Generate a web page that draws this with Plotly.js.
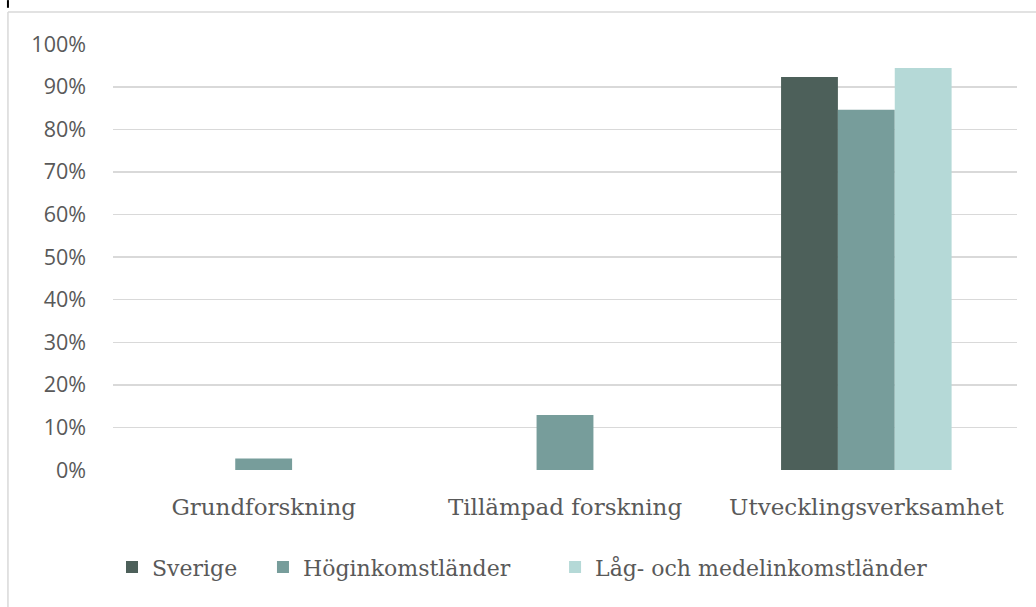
<!DOCTYPE html>
<html>
<head>
<meta charset="utf-8">
<script src="https://cdn.plot.ly/plotly-3.0.1.min.js"></script>
<style>
  html, body { margin: 0; padding: 0; background: #fff; }
  #chart { width: 1036px; height: 607px; }
</style>
</head>
<body>
<div id="chart"></div>
<script>
const categories = ['Grundforskning', 'Tillämpad forskning', 'Utvecklingsverksamhet'];
const seriesNames = ['Sverige', 'Höginkomstländer', 'Låg- och medelinkomstländer'];
const sverige = [0, 0, 0.923];
const hoginkomst = [0.027, 0.129, 0.846];
const lagMedel = [0, 0, 0.944];
const yTicks = [0, 0.1, 0.2, 0.3, 0.4, 0.5, 0.6, 0.7, 0.8, 0.9, 1.0];

const serif = '"DejaVu Serif", "Liberation Serif", serif';
const sans = '"Open Sans", "Liberation Sans", sans-serif';
const textColor = '#595959';

// one legend per series so each entry can sit where the original puts it
const legendX = [-0.0011, 0.1659, 0.489];

const mkBar = (i, y, color) => ({
  type: 'bar', name: seriesNames[i], x: categories, y,
  marker: {color}, hoverinfo: 'none',
  legend: i === 0 ? 'legend' : 'legend' + (i + 1)
});

const traces = [
  mkBar(0, sverige, '#4d605a'),
  mkBar(1, hoginkomst, '#779d9b'),
  mkBar(2, lagMedel, '#b5d9d7')
];

const mkLegend = x => ({
  orientation: 'h', x, xanchor: 'left', y: -0.228, yanchor: 'middle',
  font: {family: serif, size: 22, color: textColor},
  itemwidth: 30, bgcolor: 'rgba(0,0,0,0)'
});

const layout = {
  width: 1036, height: 607,
  margin: {l: 113, r: 19, t: 44, b: 137},
  paper_bgcolor: '#fff', plot_bgcolor: '#fff',
  barmode: 'group', bargap: 0.434, bargroupgap: 0,
  showlegend: true,
  legend: mkLegend(legendX[0]),
  legend2: mkLegend(legendX[1]),
  legend3: mkLegend(legendX[2]),
  xaxis: {
    showline: false, showgrid: false, zeroline: false, ticks: '',
    ticklabelstandoff: 21,
    tickfont: {family: serif, size: 23, color: textColor}
  },
  yaxis: {
    range: [0, 1.0005], tickvals: yTicks, tickformat: '.0%',
    showgrid: true, gridcolor: '#d9d9d9', gridwidth: 1.5,
    zeroline: false, showline: false, ticks: '',
    ticklabelstandoff: 26,
    tickfont: {family: sans, size: 21.5, color: textColor}
  },
  shapes: [
    {type: 'line', xref: 'paper', yref: 'paper', x0: -0.1162, x1: 1.03, y0: 1.0751, y1: 1.0751,
     line: {color: '#d9d9d9', width: 1.5}},
    {type: 'line', xref: 'paper', yref: 'paper', x0: -0.1162, x1: -0.1162, y0: 1.0751, y1: -0.33,
     line: {color: '#d9d9d9', width: 1.5}},
    {type: 'line', xref: 'paper', yref: 'paper', x0: -0.1162, x1: -0.1162, y0: 1.103, y1: 1.085,
     line: {color: '#000', width: 2}}
  ]
};

Plotly.newPlot('chart', traces, layout, {displayModeBar: false, staticPlot: true});
</script>
</body>
</html>
